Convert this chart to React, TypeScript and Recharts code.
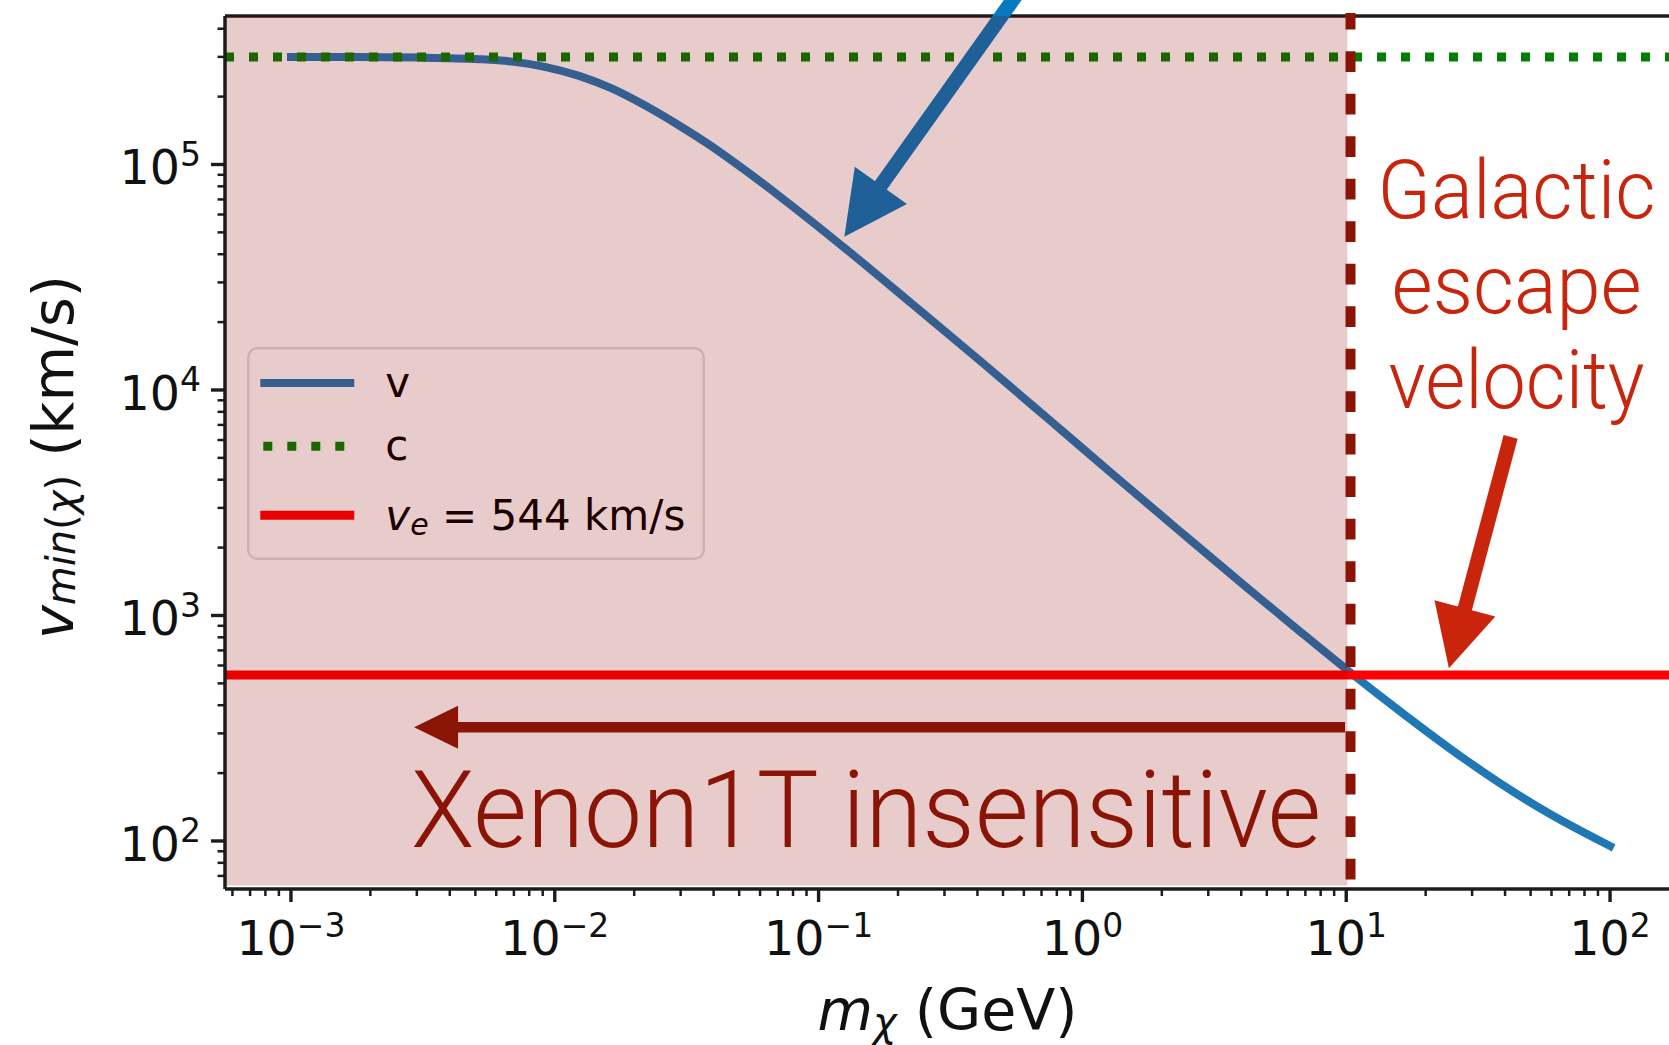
import React from 'react';
import {
  ComposedChart,
  Line,
  XAxis,
  YAxis,
  ReferenceLine,
  ReferenceArea,
  ReferenceDot,
  Legend,
  Label,
} from 'recharts';

// ---------------- data ----------------
const MASS_GEV = [
  0.001, 0.00178, 0.00316, 0.00516, 0.0069, 0.00925, 0.01236, 0.01652, 0.0221,
  0.0296, 0.0396, 0.053, 0.071, 0.127, 0.227, 0.406, 0.728, 1.3, 2.33, 4.17,
  6.65, 9.91, 15.9, 24.6, 38.1, 59.0, 100,
];
const V_MIN_KMS = [
  299700, 299350, 297850, 293100, 285800, 270400, 247200, 216800, 182000,
  148900, 119700, 93760, 72440, 42170, 23990, 13580, 7586, 4241, 2377, 1340,
  853, 583, 378, 258, 181, 132, 95,
];
const C_LIGHT_KMS = 299792;
const V_ESCAPE_KMS = 544;
const XENON_LINE_GEV = 10.38;
const SHADE_MAX_GEV = 10.1;
const SHADE_MIN_KMS = 63.5;

const X_DOMAIN: [number, number] = [0.00056234, 177.828];
const Y_DOMAIN: [number, number] = [61.24, 455500];

const X_MAJOR_TICKS = [0.001, 0.01, 0.1, 1, 10, 100];
const X_MAJOR_EXP = ['\u22123', '\u22122', '\u22121', '0', '1', '2'];
const X_MINOR_TICKS = [
  0.0006, 0.0007, 0.0008, 0.0009,
  0.002, 0.003, 0.004, 0.005, 0.006, 0.007, 0.008, 0.009,
  0.02, 0.03, 0.04, 0.05, 0.06, 0.07, 0.08, 0.09,
  0.2, 0.3, 0.4, 0.5, 0.6, 0.7, 0.8, 0.9,
  2, 3, 4, 5, 6, 7, 8, 9,
  20, 30, 40, 50, 60, 70, 80, 90,
];
const Y_MAJOR_TICKS = [100, 1000, 10000, 100000];
const Y_MAJOR_EXP = ['2', '3', '4', '5'];
const Y_MINOR_TICKS = [
  70, 80, 90,
  200, 300, 400, 500, 600, 700, 800, 900,
  2000, 3000, 4000, 5000, 6000, 7000, 8000, 9000,
  20000, 30000, 40000, 50000, 60000, 70000, 80000, 90000,
  200000, 300000, 400000,
];

const LEGEND_NAMES = ['v', 'c'];
const LEGEND_VE_VALUE = '544 km/s';

const GALACTIC_LINES = ['Galactic', 'escape', 'velocity'];
const XENON_TEXT = 'Xenon1T insensitive';

// annotation anchors, in data coordinates (GeV, km/s)
const BLUE_ARROW = [{ x: 0.5794, y: 594000 }, { x: 0.1252, y: 47840 }];
const RED_ARROW = [{ x: 41.99, y: 6188 }, { x: 24.5, y: 583.3 }];
const LEFT_ARROW = [{ x: 9.897, y: 319.3 }, { x: 0.002929, y: 319.3 }];
const XENON_DASH = [{ x: XENON_LINE_GEV, y: 67.49 }, { x: XENON_LINE_GEV, y: 469700 }];
const XENON_TEXT_POS = { x: 0.002904, y: 94.3 };
const GALACTIC_TEXT_POS = { x: 44.24, y: 57720 };

// ---------------- styles ----------------
const FONT = "'DejaVu Sans', sans-serif";
const KEYNOTE_FONT = "Roboto, Lato, 'Liberation Sans', sans-serif";
const BLUE = '#1f77b4';
const GREEN = '#008000';
const RED = '#ff0000';
const ARROW_BLUE = '#0679bf';
const DARK_RED = '#8a1406';
const ORANGE_RED = '#c9250c';
const AXIS = '#1c1c1c';
const SHADE = '#8b0000';
const SHADE_ALPHA = 0.2;

const hexToRgb = (h: string) => [1, 3, 5].map((i) => parseInt(h.slice(i, i + 2), 16));
const blend = (hex: string) => {
  const c = hexToRgb(hex);
  const s = hexToRgb(SHADE);
  const m = c.map((v, i) => Math.round(v * (1 - SHADE_ALPHA) + s[i] * SHADE_ALPHA));
  return `rgb(${m[0]},${m[1]},${m[2]})`;
};

const X_TICKS = [...X_MAJOR_TICKS, ...X_MINOR_TICKS].sort((a, b) => a - b);
const Y_TICKS = [...Y_MAJOR_TICKS, ...Y_MINOR_TICKS].sort((a, b) => a - b);

const XTick = (props: any) => {
  const { x, y, payload } = props;
  const idx = X_MAJOR_TICKS.indexOf(payload.value);
  const major = idx >= 0;
  return (
    <g>
      <line x1={x} x2={x} y1={y} y2={y + (major ? 13 : 7)} stroke={AXIS} strokeWidth={major ? 3.4 : 2.5} />
      {major && (
        <text x={x} y={y + 66} textAnchor="middle" fontFamily={FONT} fontSize={47.5} fill="#111">
          <tspan>10</tspan>
          <tspan dy={-18.3} fontSize={33}>{X_MAJOR_EXP[idx]}</tspan>
        </text>
      )}
    </g>
  );
};

const YTick = (props: any) => {
  const { x, y, payload } = props;
  const idx = Y_MAJOR_TICKS.indexOf(payload.value);
  const major = idx >= 0;
  return (
    <g>
      <line x1={x - (major ? 14 : 7.5)} x2={x} y1={y} y2={y} stroke={AXIS} strokeWidth={major ? 3.4 : 2.5} />
      {major && (
        <text x={x - 24} y={y + 20} textAnchor="end" fontFamily={FONT} fontSize={47.5} fill="#111">
          <tspan>10</tspan>
          <tspan dy={-18.7} fontSize={33}>{Y_MAJOR_EXP[idx]}</tspan>
        </text>
      )}
    </g>
  );
};

const YLabel = (props: any) => {
  const vb = props.viewBox || { x: 0, y: 16, width: 225, height: 873 };
  const cx = vb.x + 73.3;
  const cy = vb.y + vb.height / 2 + 4.5;
  return (
    <text transform={`rotate(-90)`} x={-cy} y={cx} textAnchor="middle" fontFamily={FONT} fontSize={57} fill="#111">
      <tspan fontStyle="italic">v</tspan>
      <tspan fontSize={40} dy={2} fontStyle="italic">min</tspan>
      <tspan fontSize={40}>(</tspan>
      <tspan fontSize={40} fontStyle="italic">{'\u03c7'}</tspan>
      <tspan fontSize={40}>)</tspan>
      <tspan dy={-2}>{' (km/s)'}</tspan>
    </text>
  );
};

const XLabel = (props: any) => {
  const vb = props.viewBox || { x: 225, y: 889, width: 1451, height: 156 };
  return (
    <text x={vb.x + vb.width / 2 - 3} y={vb.y + 141} textAnchor="middle" fontFamily={FONT} fontSize={57} fill="#111">
      <tspan fontStyle="italic">m</tspan>
      <tspan fontSize={40} dy={6} fontStyle="italic">{'\u03c7'}</tspan>
      <tspan dy={-6}>{' (GeV)'}</tspan>
    </text>
  );
};

const LegendBox = () => {
  const w = 458;
  const h = 213;
  const handleY = [36, 99.3, 168.3];
  const textBase = [50, 112.6, 183.3];
  const txt = blend('#000000');
  return (
    <div style={{ width: w, height: h }}>
      <svg width={w} height={h} style={{ display: 'block' }}>
        <rect x={1.25} y={1.25} width={w - 2.5} height={h - 2.5} rx={9} fill={blend('#ffffff')} stroke={blend('#dcdcdc')} strokeWidth={2.5} />
        <line x1={13.3} x2={107.3} y1={handleY[0]} y2={handleY[0]} stroke={blend(BLUE)} strokeWidth={8} />
        <line x1={16.3} x2={107.3} y1={handleY[1]} y2={handleY[1]} stroke={blend(GREEN)} strokeWidth={9} strokeDasharray="9 15" />
        <line x1={13.3} x2={107.3} y1={handleY[2]} y2={handleY[2]} stroke={blend(RED)} strokeWidth={9} />
        <text x={138.3} y={textBase[0]} fontFamily={FONT} fontSize={42} fill={txt}>{LEGEND_NAMES[0]}</text>
        <text x={138.3} y={textBase[1]} fontFamily={FONT} fontSize={42} fill={txt}>{LEGEND_NAMES[1]}</text>
        <text x={138.3} y={textBase[2]} fontFamily={FONT} fontSize={42} fill={txt}>
          <tspan fontStyle="italic">v</tspan>
          <tspan fontStyle="italic" fontSize={30} dy={5}>e</tspan>
          <tspan dy={-5}>{' = ' + LEGEND_VE_VALUE}</tspan>
        </text>
      </svg>
    </div>
  );
};

const makeArrow = (color: string, shaft: number, headLen: number, headW: number) => (p: any) => {
  const { x1, y1, x2, y2 } = p;
  if (![x1, y1, x2, y2].every((v) => typeof v === 'number' && isFinite(v))) return <g />;
  const dx = x2 - x1;
  const dy = y2 - y1;
  const L = Math.hypot(dx, dy) || 1;
  const ux = dx / L;
  const uy = dy / L;
  const px = -uy;
  const py = ux;
  const bx = x2 - ux * headLen;
  const by = y2 - uy * headLen;
  const h = shaft / 2;
  const hw = headW / 2;
  const sx = bx + ux * 2;
  const sy = by + uy * 2;
  const shaftPts = [
    [x1 + px * h, y1 + py * h],
    [sx + px * h, sy + py * h],
    [sx - px * h, sy - py * h],
    [x1 - px * h, y1 - py * h],
  ];
  const headPts = [
    [x2, y2],
    [bx + px * hw, by + py * hw],
    [bx - px * hw, by - py * hw],
  ];
  const s = (pts: number[][]) => pts.map((q) => `${q[0]},${q[1]}`).join(' ');
  return (
    <g>
      <polygon points={s(shaftPts)} fill={color} />
      <polygon points={s(headPts)} fill={color} />
    </g>
  );
};

const xenonTextShape = (p: any) => (
  <text x={p.cx - 2} y={p.cy} fill={DARK_RED} fontFamily={KEYNOTE_FONT} fontWeight={300} fontSize={107} textLength={910} lengthAdjust="spacingAndGlyphs">
    {XENON_TEXT}
  </text>
);

const GALACTIC_WIDTHS = [278, 250, 256];
const galacticTextShape = (p: any) => (
  <g>
    {GALACTIC_LINES.map((t, i) => (
      <text key={t} x={p.cx} y={p.cy + i * 95} textAnchor="middle" fill={ORANGE_RED} fontFamily={KEYNOTE_FONT} fontWeight={300} fontSize={82} textLength={GALACTIC_WIDTHS[i]} lengthAdjust="spacingAndGlyphs">
        {t}
      </text>
    ))}
  </g>
);

export default function App() {
  const data = MASS_GEV.map((m, i) => ({ m, v: V_MIN_KMS[i] }));
  return (
    <div style={{ position: 'absolute', left: 0, top: 0, width: 1669, height: 1045, overflow: 'hidden', background: '#ffffff' }}>
      <ComposedChart width={1676} height={1045} data={data} margin={{ top: 16, right: 0, bottom: 0, left: 0 }}>
        {/* top spine */}
        <ReferenceLine
          segment={[{ x: X_DOMAIN[0], y: Y_DOMAIN[1] }, { x: X_DOMAIN[1], y: Y_DOMAIN[1] }]}
          stroke={AXIS}
          strokeWidth={3.5}
          ifOverflow="visible"
          zIndex={300}
        />
        <Line
          dataKey="v"
          type="monotone"
          stroke={BLUE}
          strokeWidth={8}
          strokeLinecap="square"
          dot={false}
          activeDot={false}
          isAnimationActive={false}
          zIndex={400}
        />
        <ReferenceLine
          segment={[{ x: X_DOMAIN[0], y: C_LIGHT_KMS }, { x: X_DOMAIN[1], y: C_LIGHT_KMS }]}
          stroke={GREEN}
          strokeWidth={9}
          strokeDasharray="9 15"
          ifOverflow="visible"
          zIndex={410}
        />
        <ReferenceLine
          segment={[{ x: X_DOMAIN[0], y: V_ESCAPE_KMS }, { x: X_DOMAIN[1], y: V_ESCAPE_KMS }]}
          stroke={RED}
          strokeWidth={9}
          ifOverflow="visible"
          zIndex={411}
        />
        <ReferenceLine segment={BLUE_ARROW} ifOverflow="visible" shape={makeArrow(ARROW_BLUE, 14.5, 63, 64)} zIndex={420} />
        <ReferenceArea
          x1={X_DOMAIN[0]}
          x2={SHADE_MAX_GEV}
          y1={SHADE_MIN_KMS}
          y2={Y_DOMAIN[1]}
          fill={SHADE}
          fillOpacity={SHADE_ALPHA}
          stroke="none"
          ifOverflow="visible"
          zIndex={450}
        />
        <XAxis
          dataKey="m"
          type="number"
          scale="log"
          domain={X_DOMAIN}
          allowDataOverflow
          ticks={X_TICKS}
          interval={0}
          tickSize={0}
          tickMargin={0}
          tickLine={false}
          tick={(p: any) => <XTick {...p} />}
          axisLine={{ stroke: AXIS, strokeWidth: 3.5 }}
          height={156}
          label={<Label content={(p: any) => <XLabel {...p} />} />}
          zIndex={900}
        />
        <YAxis
          type="number"
          scale="log"
          domain={Y_DOMAIN}
          allowDataOverflow
          ticks={Y_TICKS}
          interval={0}
          tickSize={0}
          tickMargin={0}
          tickLine={false}
          tick={(p: any) => <YTick {...p} />}
          axisLine={{ stroke: AXIS, strokeWidth: 3.5 }}
          width={225}
          label={<Label content={(p: any) => <YLabel {...p} />} />}
          zIndex={900}
        />
        <ReferenceLine
          segment={XENON_DASH}
          stroke={DARK_RED}
          strokeWidth={10}
          strokeDasharray="20.7 21.8"
          ifOverflow="visible"
          zIndex={1000}
        />
        <ReferenceLine segment={LEFT_ARROW} ifOverflow="visible" shape={makeArrow(DARK_RED, 10.5, 44, 43)} zIndex={1001} />
        <ReferenceLine segment={RED_ARROW} ifOverflow="visible" shape={makeArrow(ORANGE_RED, 14.5, 62, 63)} zIndex={1002} />
        <ReferenceDot x={XENON_TEXT_POS.x} y={XENON_TEXT_POS.y} ifOverflow="visible" shape={xenonTextShape} zIndex={1003} />
        <ReferenceDot x={GALACTIC_TEXT_POS.x} y={GALACTIC_TEXT_POS.y} ifOverflow="visible" shape={galacticTextShape} zIndex={1004} />
        <Legend
          layout="vertical"
          align="center"
          verticalAlign="middle"
          wrapperStyle={{ left: 246.7, top: 346.7, width: 458, height: 213 }}
          content={() => <LegendBox />}
        />
      </ComposedChart>
    </div>
  );
}
